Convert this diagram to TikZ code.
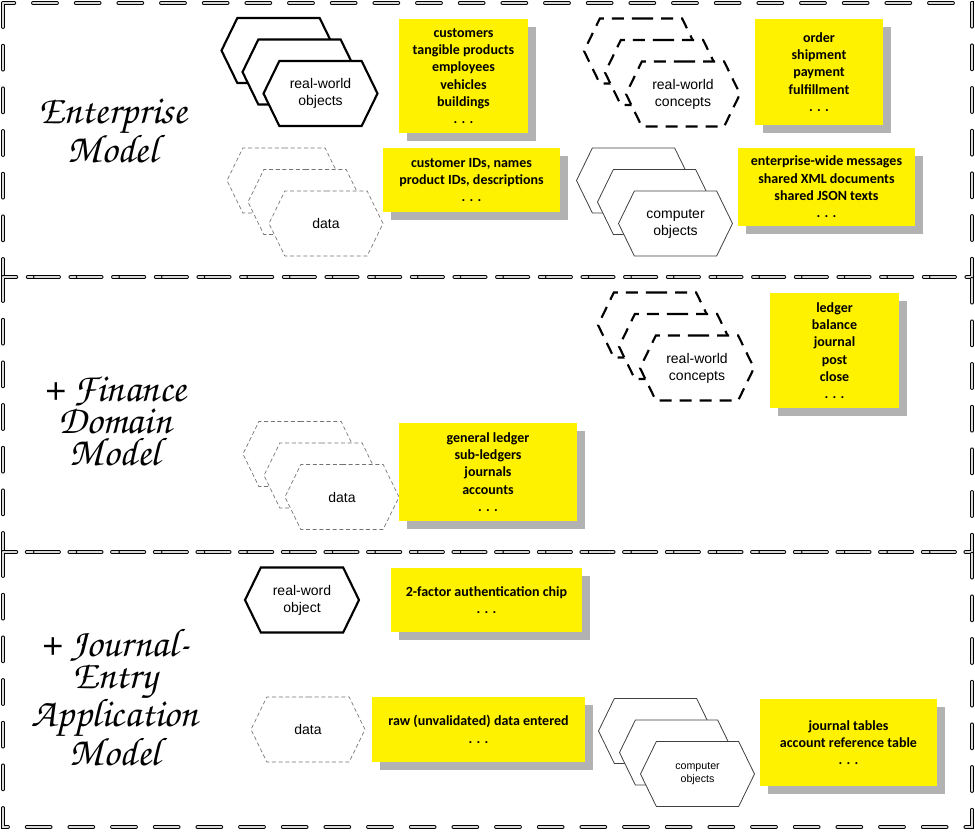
\documentclass[tikz,border=0pt]{standalone}
\usepackage{fontspec}
\setmainfont{Liberation Sans}
\newfontfamily\notefont{Carlito}
\newfontfamily\titlefont{TeX Gyre Chorus}
\usetikzlibrary{shapes.symbols,shadows}
\tikzset{
  panel/.style={draw=black, line width=0.6pt, double=black!15, double distance=1.6pt,
    dash pattern=on 18pt off 14pt, line cap=round},
  hex/.style={shape=signal, signal to=east and west, signal pointer angle=128,
    minimum width=85.5pt, minimum height=48.75pt, inner sep=0pt, fill=white,
    align=center, font=\fontsize{10.5}{12.75}\selectfont},
  objhex/.style={hex, draw, line width=1.6pt},
  cpthex/.style={hex, draw, line width=1.6pt, dash pattern=on 9pt off 6pt},
  datahex/.style={hex, draw=black!55, line width=0.5pt, dash pattern=on 3pt off 2pt},
  comphex/.style={hex, draw=black!75, line width=0.6pt},
  note/.style={fill=yellow, align=center, inner sep=0pt,
    font=\notefont\bfseries\fontsize{10.5}{13}\selectfont,
    drop shadow={shadow xshift=6pt, shadow yshift=-6pt, fill=black!30, opacity=1}},
  title/.style={align=center, font=\titlefont\fontsize{30}{24}\selectfont}
}
\begin{document}
\begin{tikzpicture}[x=0.75pt,y=-0.75pt]
\useasboundingbox (0,0) rectangle (975,832);
% the three layers
\draw[panel] (3,3) rectangle (972,277);
\draw[panel] (3,277) rectangle (972,552);
\draw[panel] (3,552) rectangle (972,827);

% enterprise model
\node[title] (entTitle) at (113,131) {Enterprise\\Model};
\foreach \i in {2,1}
  \node[objhex] (obj\i) at (320.5-21*\i,93.5-21.5*\i) {};
\node[objhex] (obj) at (320.5,93.5) {real-world\\objects};
\node[note,minimum width=96.75pt,minimum height=85.5pt] (objNote) at (463.5,76)
  {customers\\tangible products\\employees\\vehicles\\buildings\\. . .};
\foreach \i in {2,1}
  \node[cpthex] (cpt\i) at (683-21*\i,94-21.5*\i) {};
\node[cpthex] (cpt) at (683,94) {real-world\\concepts};
\node[note,minimum width=96pt,minimum height=79.5pt] (cptNote) at (819,72)
  {order\\shipment\\payment\\fulfillment\\. . .};
\foreach \i in {2,1}
  \node[datahex] (data\i) at (326-21*\i,223.5-21.5*\i) {};
\node[datahex] (data) at (326,223.5) {data};
\node[note,minimum width=132.75pt,minimum height=48pt] (dataNote) at (471.5,180)
  {customer IDs, names\\product IDs, descriptions\\. . .};
\foreach \i in {2,1}
  \node[comphex] (comp\i) at (675.5-21*\i,223.5-21.5*\i) {};
\node[comphex] (comp) at (675.5,223.5) {computer\\objects};
\node[note,minimum width=132.75pt,minimum height=58.5pt] (compNote) at (826.5,187)
  {enterprise-wide messages\\shared XML documents\\shared JSON texts\\. . .};

% finance domain model
\node[title] (finTitle) at (115,421) {+ Finance\\Domain\\Model};
\foreach \i in {2,1}
  \node[cpthex] (finCpt\i) at (697-21*\i,368-21.5*\i) {};
\node[cpthex] (finCpt) at (697,368) {real-world\\concepts};
\node[note,minimum width=96.75pt,minimum height=86.25pt] (finCptNote) at (834.5,350.5)
  {ledger\\balance\\journal\\post\\close\\. . .};
\foreach \i in {2,1}
  \node[datahex] (finData\i) at (342-21*\i,497-21.5*\i) {};
\node[datahex] (finData) at (342,497) {data};
\node[note,minimum width=133.5pt,minimum height=73.5pt] (finDataNote) at (488,472)
  {general ledger\\sub-ledgers\\journals\\accounts\\. . .};

% journal-entry application model
\node[title] (jeTitle) at (115,697.5) {+ Journal-\\Entry\\Application\\Model};
\node[objhex] (jeObj) at (302,600) {real-word\\object};
\node[note,minimum width=143.25pt,minimum height=48pt] (jeObjNote) at (486.5,600)
  {2-factor authentication chip\\. . .};
\node[datahex] (jeData) at (308,729.5) {data};
\node[note,minimum width=159.75pt,minimum height=48.75pt] (jeDataNote) at (478.5,729.5)
  {raw (unvalidated) data entered\\. . .};
\foreach \i in {2,1}
  \node[comphex] (jeComp\i) at (697.5-21*\i,774-21.5*\i) {};
\node[comphex,font=\fontsize{8}{9.75}\selectfont] (jeComp) at (697.5,774) {computer\\objects};
\node[note,minimum width=132.75pt,minimum height=65.25pt] (jeCompNote) at (848.5,742.5)
  {journal tables\\account reference table\\. . .};
\end{tikzpicture}
\end{document}
